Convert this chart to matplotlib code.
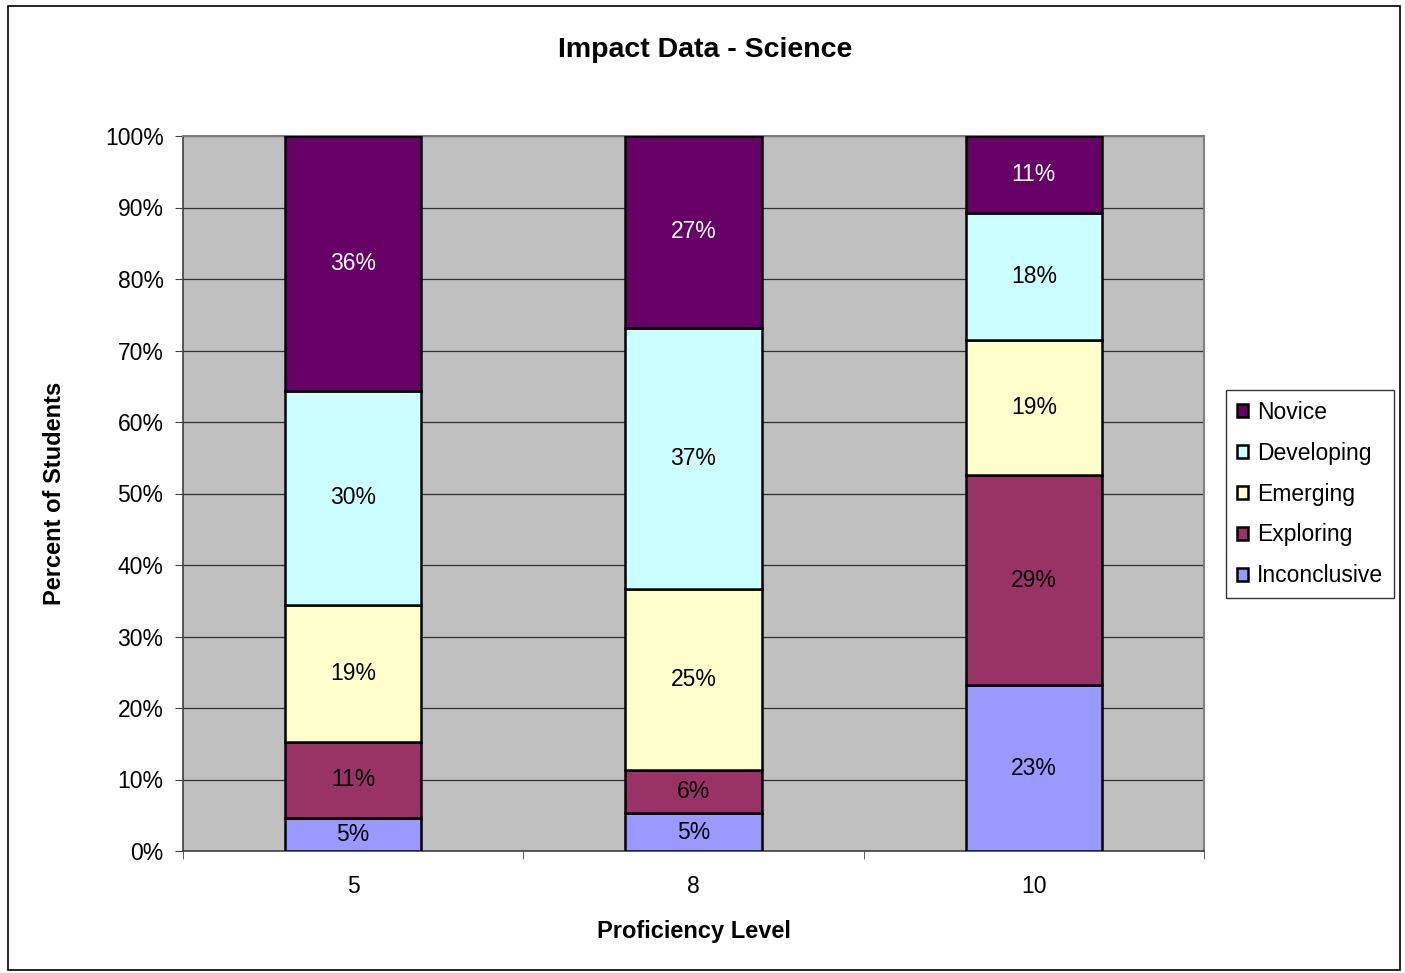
import numpy as np
import matplotlib
matplotlib.use('Agg')
import matplotlib.pyplot as plt
from matplotlib.patches import Rectangle
from matplotlib.ticker import FixedLocator, PercentFormatter

plt.rcParams['font.family'] = ['Liberation Sans', 'DejaVu Sans']

levels = ['5', '8', '10']
inconclusive = [4.6, 5.3, 23.2]
exploring = [10.7, 6.0, 29.4]
emerging = [19.1, 25.3, 18.9]
developing = [30.0, 36.6, 17.7]
novice = [35.6, 26.8, 10.8]

series = [('Inconclusive', inconclusive, '#9999FF', 'black'),
          ('Exploring', exploring, '#993366', 'black'),
          ('Emerging', emerging, '#FFFFCC', 'black'),
          ('Developing', developing, '#CCFFFF', 'black'),
          ('Novice', novice, '#660066', 'white')]

fig = plt.figure(figsize=(14.05, 9.73), dpi=100)
ax = fig.add_axes([183/1405, 1-851/973, (1204-183)/1405, (851-136)/973])
ax.set_facecolor('#C0C0C0')

x = np.arange(len(levels))
bottom = np.zeros(len(levels))
handles = []
for name, vals, col, tcol in series:
    vals = np.array(vals)
    b = ax.bar(x, vals, 0.4, bottom=bottom, color=col, edgecolor='black',
               linewidth=1.8, label=name, zorder=3)
    handles.append(b)
    for xi, v, b0 in zip(x, vals, bottom):
        ax.text(xi, b0 + v/2, '%.0f%%' % v, ha='center', va='center',
                fontsize=16.5, color=tcol, zorder=4)
    bottom += vals

ax.set_xlim(-0.5, 2.5)
ax.set_ylim(0, 100)
ax.yaxis.set_major_locator(FixedLocator(np.arange(0, 101, 10)))
ax.yaxis.set_major_formatter(PercentFormatter(decimals=0))
ax.grid(axis='y', color='#303030', linewidth=0.9, zorder=1)
ax.set_axisbelow(True)

ax.set_xticks(x)
ax.set_xticklabels(levels)
ax.set_xticks([-0.5, 0.5, 1.5, 2.5], minor=True)
ax.tick_params(axis='x', which='major', length=0, pad=17, labelsize=16.5)
ax.tick_params(axis='x', which='minor', length=6, direction='out', color='#404040')
ax.tick_params(axis='y', length=6, direction='out', labelsize=16.5, pad=8, color='#404040')

for s in ['top', 'right']:
    ax.spines[s].set_color('#808080')
    ax.spines[s].set_linewidth(1.5)
for s in ['left', 'bottom']:
    ax.spines[s].set_color('#404040')
    ax.spines[s].set_linewidth(1.2)

ax.set_xlabel('Proficiency Level', fontsize=17, fontweight='bold', labelpad=16)
ax.set_ylabel('Percent of Students', fontsize=17, fontweight='bold', labelpad=28)
fig.text(705/1405, 1-50/973, 'Impact Data - Science', ha='center', va='center',
         fontsize=20.5, fontweight='bold')

leg = fig.legend(handles[::-1], [s[0] for s in series][::-1],
                 loc='center', bbox_to_anchor=(1310/1405, 1-494/973),
                 fontsize=16.5, frameon=True, fancybox=False, edgecolor='black',
                 handlelength=0.5, handleheight=0.5, handletextpad=0.4,
                 labelspacing=0.78, borderpad=0.45, borderaxespad=0)
leg.get_frame().set_linewidth(1.0)

fig.patches.append(Rectangle((8/1405, 1-970/973), 1392/1405, 964/973,
                             transform=fig.transFigure, fill=False,
                             edgecolor='black', linewidth=1.2))

fig.savefig('out.png', dpi=100)
